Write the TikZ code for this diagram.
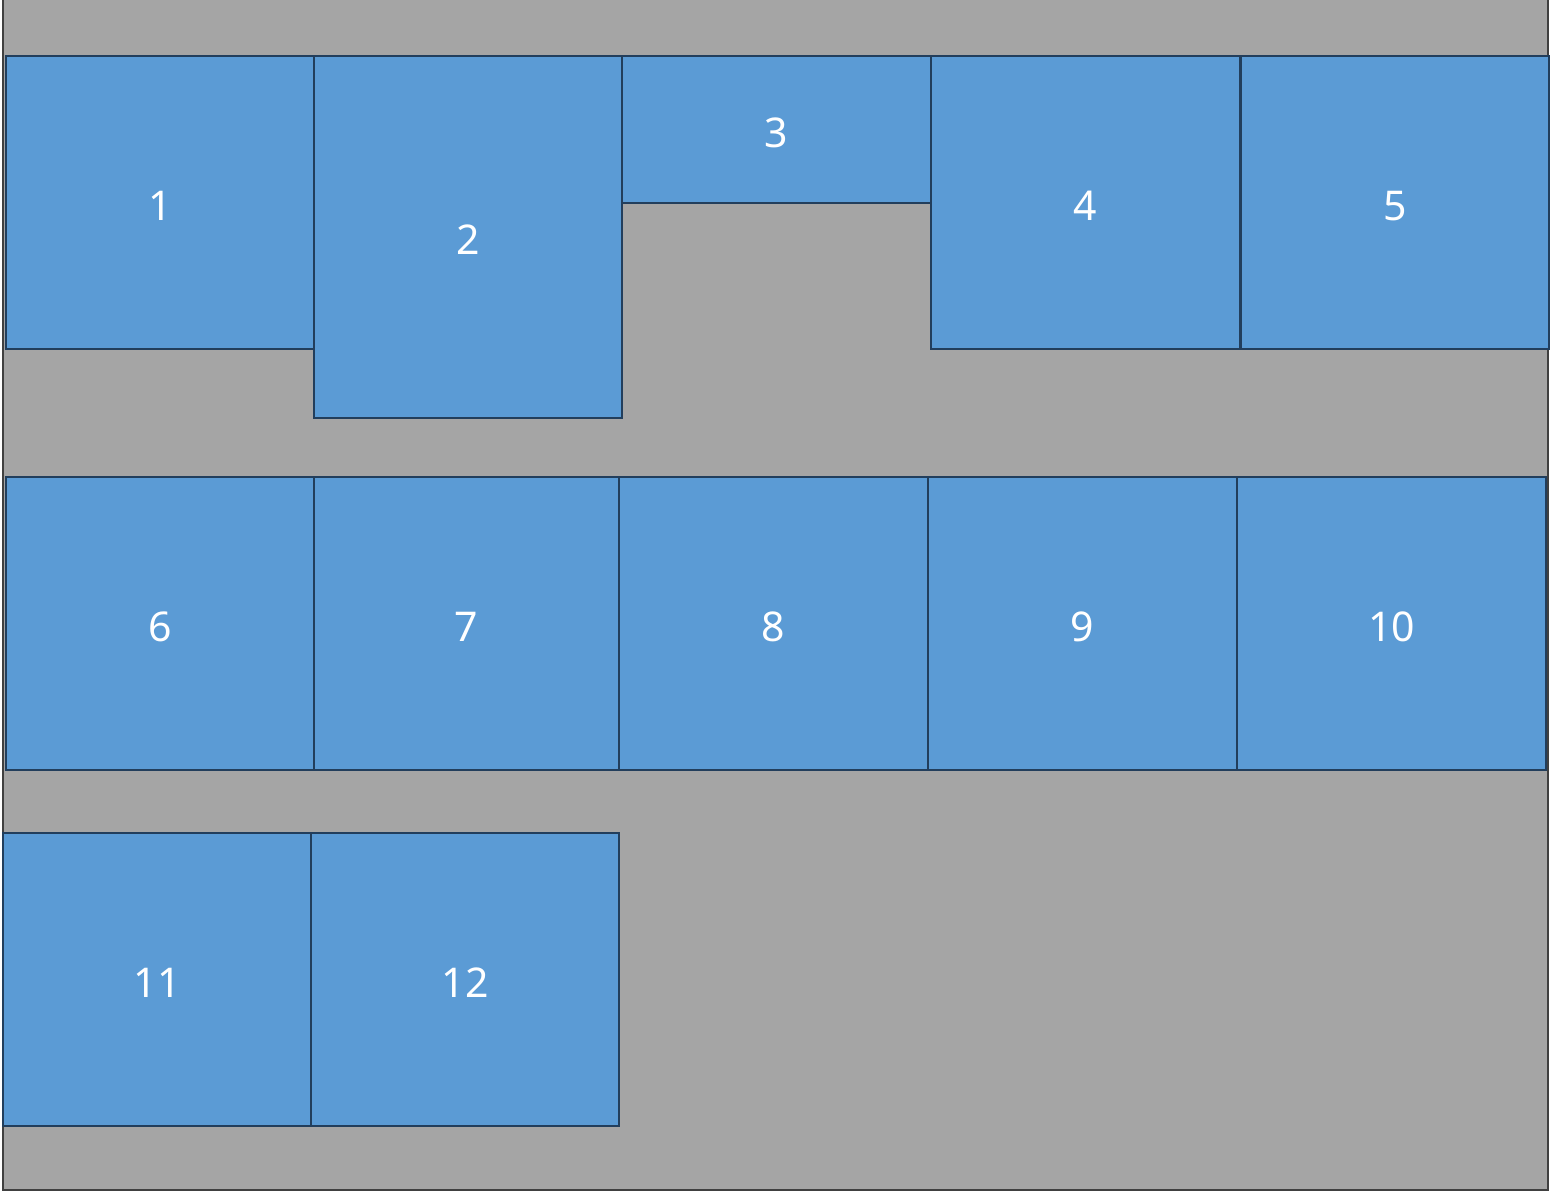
\documentclass[tikz,border=0pt]{standalone}
\usepackage{fontspec}
\setmainfont{Noto Sans}
\definecolor{bgfill}{HTML}{A5A5A5}
\definecolor{bgline}{HTML}{404040}
\definecolor{boxfill}{HTML}{5B9BD5}
\definecolor{boxline}{HTML}{223E5C}
\tikzset{
  blk/.style={draw=boxline, fill=boxfill, line width=2pt, rectangle, inner sep=0pt, outer sep=0pt,
    text=white, font=\fontsize{41}{41}\selectfont, text height=35pt, text depth=0pt, anchor=north west},
}
\begin{document}
\begin{tikzpicture}[x=1pt,y=-1pt]
\useasboundingbox (0,0) rectangle (1550,1191);
\fill[bgfill] (3,-2) rectangle (1548,1190);
\draw[bgline, line width=2.5pt] (3,-2) -- (3,1190) -- (1548,1190) -- (1548,-2);
% row 1
\node[blk, minimum width=308pt, minimum height=293pt] (b1) at (6,56) {1};
\node[blk, minimum width=308pt, minimum height=362pt] (b2) at (314,56) {2};
\node[blk, minimum width=309pt, minimum height=147pt] (b3) at (622,56) {3};
\node[blk, minimum width=309pt, minimum height=293pt] (b4) at (931,56) {4};
\node[blk, minimum width=308pt, minimum height=293pt] (b5) at (1241,56) {5};
% row 2
\node[blk, minimum width=308pt, minimum height=293pt] (b6) at (6,477) {6};
\node[blk, minimum width=305pt, minimum height=293pt] (b7) at (314,477) {7};
\node[blk, minimum width=309pt, minimum height=293pt] (b8) at (619,477) {8};
\node[blk, minimum width=309pt, minimum height=293pt] (b9) at (928,477) {9};
\node[blk, minimum width=309pt, minimum height=293pt] (b10) at (1237,477) {10};
% row 3
\node[blk, minimum width=308pt, minimum height=293pt] (b11) at (3,833) {11};
\node[blk, minimum width=308pt, minimum height=293pt] (b12) at (311,833) {12};
\end{tikzpicture}
\end{document}
